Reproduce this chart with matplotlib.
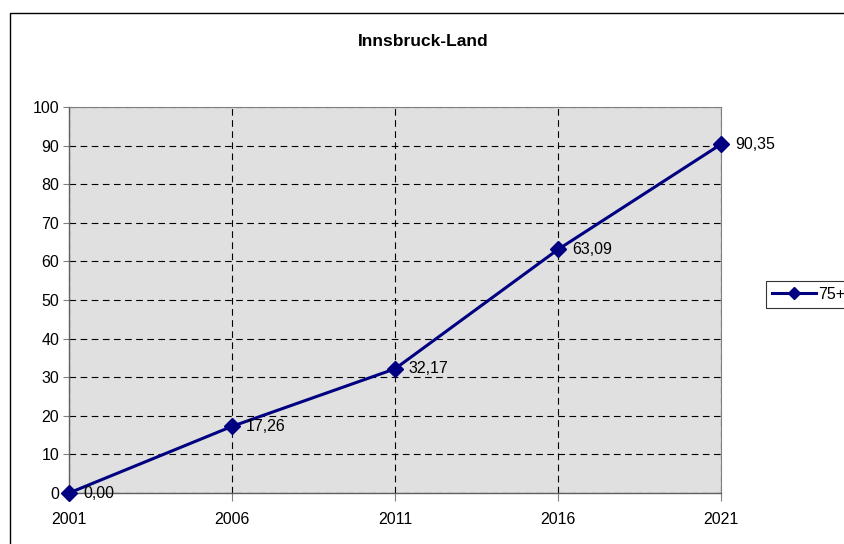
import matplotlib
matplotlib.use("Agg")
import matplotlib.pyplot as plt
from matplotlib.patches import Rectangle
from matplotlib.lines import Line2D

plt.rcParams['font.family'] = ['Liberation Sans', 'DejaVu Sans']

# data
years = ['2001', '2006', '2011', '2016', '2021']
values = [0.00, 17.26, 32.17, 63.09, 90.35]
series_name = '75+'
title = 'Innsbruck-Land'

fig = plt.figure(figsize=(8.44, 5.44), dpi=100)
fig.patch.set_facecolor('white')

# outer chart frame (cut off at right and bottom like the source)
fig.patches.append(Rectangle((10 / 844, -0.05), 1.1, 1 - 13 / 544 + 0.05,
                             transform=fig.transFigure, fill=False,
                             edgecolor='black', linewidth=1.0, clip_on=False))

ax = fig.add_axes([69 / 844, 1 - 493 / 544, 652 / 844, 386 / 544])
ax.set_facecolor('#e0e0e0')

x = list(range(len(years)))
line, = ax.plot(x, values, color='#000080', linewidth=2.2, marker='D',
                markersize=8.5, markerfacecolor='#000080', markeredgecolor='#000080',
                clip_on=False, zorder=5, label=series_name)

for xi, v in zip(x, values):
    ax.annotate(f'{v:.2f}'.replace('.', ','), (xi, v), xytext=(10, 0),
                textcoords='offset points', ha='left', va='center', fontsize=11.5,
                color='black', zorder=6)

ax.set_xlim(0, len(years) - 1)
ax.set_ylim(0, 100)
ax.set_xticks(x)
ax.set_xticklabels(years, fontsize=11.5)
ax.set_yticks(range(0, 101, 10))
ax.tick_params(axis='y', labelsize=11.5, length=4, width=0.8, color='#808080', pad=3)
ax.tick_params(axis='x', length=6, width=0.8, color='#808080', pad=8)

ax.grid(True, color='black', linestyle=(0, (6, 4)), linewidth=0.8)
ax.set_axisbelow(True)

for s in ['top', 'right']:
    ax.spines[s].set_color('#808080')
    ax.spines[s].set_linewidth(0.8)
for s in ['left', 'bottom']:
    ax.spines[s].set_color('#606060')
    ax.spines[s].set_linewidth(1.0)

fig.text(423 / 844, 1 - 42 / 544, title, ha='center', va='center',
         fontsize=12.5, fontweight='bold')

handle = Line2D([], [], color='#000080', linewidth=2.2, marker='D',
                markersize=6, markerfacecolor='#000080', markeredgecolor='#000080')
leg = fig.legend(handles=[handle], labels=[series_name], loc='center left',
                 bbox_to_anchor=(766 / 844, 1 - 294.5 / 544),
                 fontsize=11.5, frameon=True, fancybox=False,
                 edgecolor='black', borderpad=0.45, handlelength=2.8,
                 handletextpad=0.1, borderaxespad=0)
leg._legend_box.align = 'left'
leg.get_frame().set_linewidth(0.8)
# tighter left padding inside the box
leg._legend_box.pad = 0.25 * 11.5 * 100 / 72

fig.savefig('out.png', dpi=100)
